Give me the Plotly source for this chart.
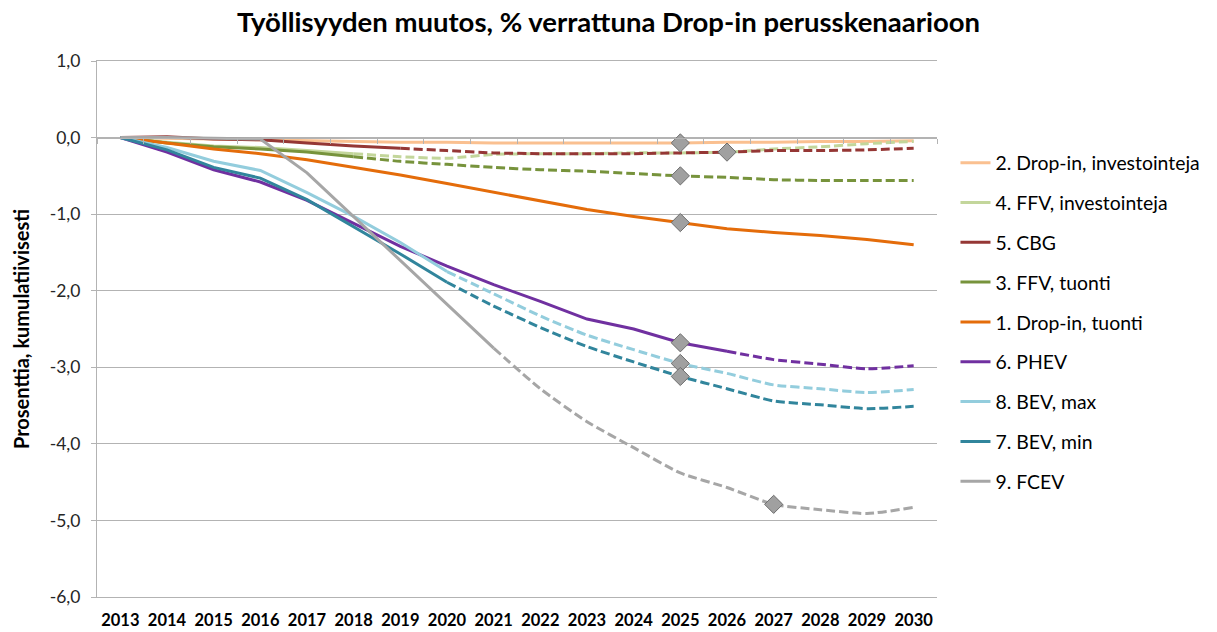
import plotly.graph_objects as go

years = [str(y) for y in range(2013, 2031)]

series_names = [
    "2. Drop-in, investointeja",
    "4. FFV, investointeja",
    "5. CBG",
    "3. FFV, tuonti",
    "1. Drop-in, tuonti",
    "6. PHEV",
    "8. BEV, max",
    "7. BEV, min",
    "9. FCEV",
]

drop_in_inv = [0, -0.01, -0.02, -0.03, -0.04, -0.05, -0.06, -0.06, -0.07, -0.07, -0.07, -0.07, -0.07, -0.06, -0.06, -0.05, -0.05, -0.04]
ffv_inv = [0, -0.06, -0.11, -0.13, -0.17, -0.21, -0.25, -0.27, -0.22, -0.21, -0.21, -0.20, -0.20, -0.19, -0.15, -0.12, -0.08, -0.05]
cbg = [0, 0.01, -0.02, -0.03, -0.07, -0.11, -0.14, -0.17, -0.20, -0.21, -0.21, -0.21, -0.20, -0.19, -0.17, -0.17, -0.16, -0.14]
ffv_tuonti = [0, -0.07, -0.12, -0.15, -0.19, -0.25, -0.31, -0.35, -0.39, -0.42, -0.44, -0.47, -0.50, -0.52, -0.55, -0.56, -0.56, -0.56]
drop_in_tuonti = [0, -0.07, -0.15, -0.21, -0.29, -0.39, -0.49, -0.60, -0.71, -0.83, -0.94, -1.03, -1.11, -1.19, -1.24, -1.28, -1.33, -1.40]
phev = [0, -0.19, -0.42, -0.58, -0.82, -1.12, -1.42, -1.68, -1.92, -2.14, -2.37, -2.50, -2.68, -2.79, -2.90, -2.96, -3.02, -2.98]
bev_max = [0, -0.13, -0.31, -0.43, -0.72, -1.03, -1.37, -1.75, -2.04, -2.33, -2.58, -2.77, -2.95, -3.08, -3.23, -3.28, -3.33, -3.29]
bev_min = [0, -0.16, -0.39, -0.53, -0.81, -1.16, -1.52, -1.89, -2.20, -2.48, -2.73, -2.93, -3.12, -3.28, -3.44, -3.49, -3.54, -3.51]
fcev = [0, 0.0, -0.01, -0.02, -0.46, -1.03, -1.60, -2.18, -2.75, -3.28, -3.71, -4.05, -4.38, -4.57, -4.79, -4.86, -4.91, -4.83]

series_values = [drop_in_inv, ffv_inv, cbg, ffv_tuonti, drop_in_tuonti, phev, bev_max, bev_min, fcev]

# last year drawn with a solid line (rest is dashed projection)
solid_until = ["2030", "2018", "2019", "2018", "2030", "2026", "2020", "2020", "2021"]

# highlighted points (series, year)
marker_points = [
    ("2. Drop-in, investointeja", "2025"),
    ("5. CBG", "2026"),
    ("3. FFV, tuonti", "2025"),
    ("1. Drop-in, tuonti", "2025"),
    ("6. PHEV", "2025"),
    ("8. BEV, max", "2025"),
    ("7. BEV, min", "2025"),
    ("9. FCEV", "2027"),
]

y_tickvals = [1, 0, -1, -2, -3, -4, -5, -6]
y_ticktext = ["1,0", "0,0", "-1,0", "-2,0", "-3,0", "-4,0", "-5,0", "-6,0"]

colors = ["#FAC090", "#C3D69B", "#953735", "#77933C", "#E46C0A", "#7030A0", "#93CDDD", "#31859C", "#A6A6A6"]

FONT = "Lato"
GRID = "#B3B3B3"

fig = go.Figure()

for name, vals, end, col in zip(series_names, series_values, solid_until, colors):
    k = years.index(end)
    fig.add_trace(go.Scatter(
        x=years[:k + 1], y=vals[:k + 1], mode="lines", name=name,
        legendgroup=name, line=dict(color=col, width=3),
        hoverinfo="skip",
    ))
    if k < len(years) - 1:
        fig.add_trace(go.Scatter(
            x=years[k:], y=vals[k:], mode="lines", name=name,
            legendgroup=name, showlegend=False,
            line=dict(color=col, width=3, dash="9px,4px", shape="spline", smoothing=0.6),
            hoverinfo="skip",
        ))

mx, my = [], []
for nm, yr in marker_points:
    vals = series_values[series_names.index(nm)]
    mx.append(yr)
    my.append(vals[years.index(yr)])
fig.add_trace(go.Scatter(
    x=mx, y=my, mode="markers", showlegend=False, hoverinfo="skip",
    marker=dict(symbol="diamond", size=14, color="#A0A0A0", line=dict(color="#6E6E6E", width=1)),
))

# dummy trace for the category axis line at y = 0
fig.add_trace(go.Scatter(x=years, y=[None] * len(years), xaxis="x2", showlegend=False, hoverinfo="skip", mode="lines"))

fig.update_layout(
    width=1217, height=632,
    margin=dict(l=97, r=280, t=61, b=35),
    paper_bgcolor="white", plot_bgcolor="white",
    font=dict(family=FONT, color="#262626"),
    title=dict(
        text="<b>Työllisyyden muutos, % verrattuna Drop-in perusskenaarioon</b>",
        x=0.5, xanchor="center", y=1 - 22 / 632, yanchor="middle",
        font=dict(family=FONT, size=27.5, color="#000000"),
    ),
    xaxis=dict(
        type="category", categoryorder="array", categoryarray=years,
        range=[-0.5, len(years) - 0.5], automargin=False,
        showgrid=False, zeroline=False,
        showline=True, linecolor=GRID, linewidth=1, mirror=True,
        ticks="", tickfont=dict(family=FONT, size=16.5, color="#000000"),
        tickprefix="<b>", ticksuffix="</b>", ticklabelstandoff=8,
    ),
    xaxis2=dict(
        type="category", categoryorder="array", categoryarray=years,
        range=[-0.5, len(years) - 0.5], automargin=False,
        overlaying="x", anchor="free", position=6 / 7,
        showgrid=False, zeroline=False, showticklabels=False,
        showline=True, linecolor=GRID, linewidth=1,
        ticks="outside", tickson="boundaries", ticklen=5, tickcolor=GRID,
    ),
    yaxis=dict(
        range=[-6, 1], tickvals=y_tickvals, ticktext=y_ticktext, automargin=False,
        showgrid=True, gridcolor=GRID, gridwidth=1, zeroline=False,
        showline=True, linecolor=GRID, linewidth=1,
        ticks="outside", ticklen=5, tickcolor=GRID,
        tickfont=dict(family=FONT, size=17.5, color="#262626"),
        ticklabelstandoff=7,
        title=dict(text="<b>Prosenttia, kumulatiivisesti</b>", font=dict(family=FONT, size=20, color="#000000"), standoff=14),
    ),
    legend=dict(
        x=1.022, xanchor="left", y=0.846, yanchor="top",
        font=dict(family=FONT, size=19.4, color="#000000"),
        tracegroupgap=11.6, bgcolor="rgba(0,0,0,0)",
    ),
    showlegend=True,
)

fig.write_html("out.html", config={"displayModeBar": False},
               post_script="document.body.style.margin='0';")
